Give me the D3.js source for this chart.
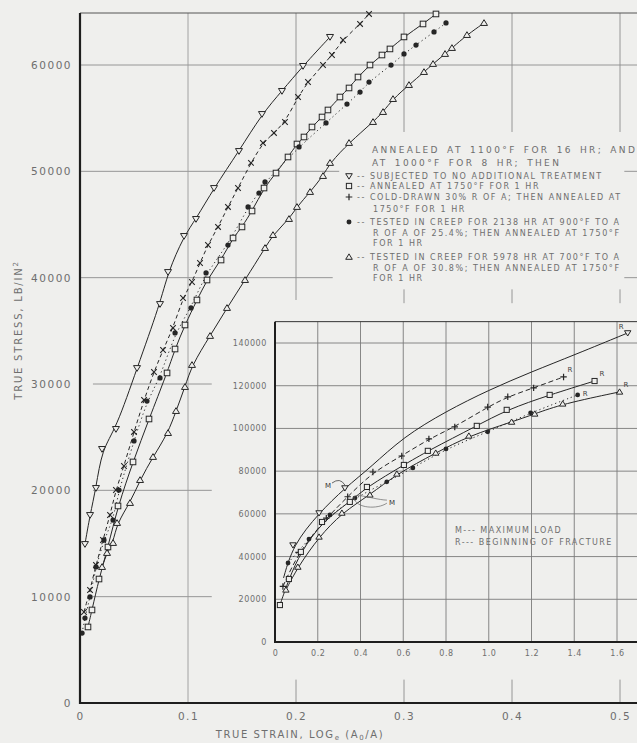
<!DOCTYPE html>
<html><head><meta charset="utf-8">
<script src="https://cdn.jsdelivr.net/npm/d3@7"></script>
<style>
body{margin:0;background:#efefed;}
svg{display:block;font-family:"DejaVu Sans",sans-serif;}
</style></head><body>
<svg id="c" width="637" height="743"></svg>
<script>
// ---------------- DATA ----------------
const mainXTicks = [0, 0.1, 0.2, 0.3, 0.4, 0.5];
const mainYTicks = [0, 10000, 20000, 30000, 40000, 50000, 60000];
const insetXTicks = [0, 0.2, 0.4, 0.6, 0.8, 1.0, 1.2, 1.4, 1.6];
const insetYTicks = [0, 20000, 40000, 60000, 80000, 100000, 120000, 140000];

// main chart: [true strain, true stress]
const noTreatment = [[0.0046,14950],[0.0093,17680],[0.0148,20220],[0.0204,23890],[0.0333,25770],[0.0528,31500],[0.0741,37520],[0.0815,40530],[0.0963,43920],[0.1074,45520],[0.1241,48430],[0.1472,51910],[0.1685,55390],[0.1870,57560],[0.2065,59910],[0.2315,62640]];
const annealed1750 = [[0.0074,7150],[0.0111,8750],[0.0176,11660],[0.0259,14670],[0.0352,18530],[0.0491,22670],[0.0639,26710],[0.0806,31040],[0.0880,33290],[0.0972,35550],[0.1083,37900],[0.1176,39780],[0.1306,41660],[0.1417,43730],[0.1500,44770],[0.1593,46270],[0.1704,48430],[0.1815,49840],[0.1926,51350],[0.2009,52570],[0.2074,53230],[0.2148,54170],[0.2241,55110],[0.2296,55770],[0.2407,56990],[0.2491,57840],[0.2574,58870],[0.2685,60000],[0.2796,60940],[0.2870,61510],[0.3000,62640],[0.3176,63860],[0.3296,64800]];
const coldDrawn = [[0.0037,8560],[0.0093,10630],[0.0148,12980],[0.0213,15330],[0.0278,17680],[0.0333,20030],[0.0407,22290],[0.0500,25490],[0.0593,28500],[0.0685,31130],[0.0769,33200],[0.0861,35270],[0.0954,38090],[0.1037,39590],[0.1111,41380],[0.1185,43070],[0.1278,44770],[0.1370,46650],[0.1463,48430],[0.1583,50790],[0.1694,52670],[0.1796,53610],[0.1898,54640],[0.2019,56990],[0.2111,58400],[0.2250,60000],[0.2333,60940],[0.2435,62350],[0.2593,63860],[0.2676,64800]];
const creep900 = [[0.0019,6580],[0.0046,7990],[0.0093,9970],[0.0148,12790],[0.0222,15330],[0.0306,17210],[0.0361,20030],[0.0500,24640],[0.0620,28400],[0.0741,30570],[0.0880,34800],[0.1028,37150],[0.1167,40440],[0.1370,43070],[0.1556,46650],[0.1657,47960],[0.1713,49000],[0.2028,52290],[0.2278,54550],[0.2472,56330],[0.2593,57460],[0.2676,58400],[0.2880,60000],[0.3000,61040],[0.3111,61880],[0.3278,63110],[0.3389,63950]];
const creep700 = [[0.0204,12790],[0.0250,14110],[0.0306,15050],[0.0343,16930],[0.0463,18810],[0.0556,20970],[0.0676,23140],[0.0815,25390],[0.0889,27460],[0.0972,29720],[0.1037,31790],[0.1204,34520],[0.1361,37150],[0.1528,39780],[0.1713,42790],[0.1787,44010],[0.1935,45520],[0.2009,46650],[0.2130,48060],[0.2250,49560],[0.2315,50790],[0.2491,52670],[0.2713,54640],[0.2806,55580],[0.2898,56800],[0.3046,58120],[0.3185,59340],[0.3269,60100],[0.3380,61040],[0.3444,61600],[0.3583,62820],[0.3741,63950]];

// inset chart
const insetNoTreatment = [[0.084,45400],[0.206,60400],[0.327,72100],[1.65,144700]];
const insetNoTreatmentCurve = [[0.04,30000],[0.084,45400],[0.206,60400],[0.327,72100],[0.45,82000],[0.6,96000],[0.8,108000],[1.0,118000],[1.2,126500],[1.4,134400],[1.65,144700]];
const insetCold = [[0.037,26000],[0.11,42000],[0.24,58000],[0.34,68000],[0.458,79600],[0.593,87100],[0.72,95100],[0.841,100700],[0.995,110000],[1.089,114800],[1.21,119000],[1.35,124100]];
const insetAnnealed = [[0.023,17300],[0.065,29500],[0.121,42200],[0.22,56200],[0.35,65600],[0.43,72600],[0.603,82900],[0.715,89500],[0.944,101200],[1.084,108700],[1.285,115700],[1.495,122200]];
const insetCreep900 = [[0.061,37000],[0.159,48200],[0.257,59500],[0.374,67400],[0.523,75000],[0.645,81500],[0.8,90400],[0.995,98400],[1.196,107300],[1.416,115700]];
const insetCreep700 = [[0.051,24400],[0.107,35100],[0.206,49200],[0.313,60400],[0.444,68900],[0.57,78700],[0.752,88500],[0.907,96500],[1.107,103000],[1.215,106800],[1.346,111500],[1.612,117100]];

const legendTitle = ["ANNEALED AT 1100°F FOR 16 HR; AND", "AT 1000°F FOR 8 HR; THEN"];
const legendItems = [
  {sym:"tdown", lines:["-- SUBJECTED TO NO ADDITIONAL TREATMENT"]},
  {sym:"sq", lines:["-- ANNEALED AT 1750°F FOR 1 HR"]},
  {sym:"plus", lines:["-- COLD-DRAWN 30% R OF A; THEN ANNEALED AT", "1750°F FOR 1 HR"]},
  {sym:"dot", lines:["-- TESTED IN CREEP FOR 2138 HR AT 900°F TO A", "R OF A OF 25.4%; THEN ANNEALED AT 1750°F", "FOR 1 HR"]},
  {sym:"tup", lines:["-- TESTED IN CREEP FOR 5978 HR AT 700°F TO A", "R OF A OF 30.8%; THEN ANNEALED AT 1750°F", "FOR 1 HR"]}
];
const insetLegend = ["M--- MAXIMUM LOAD", "R--- BEGINNING OF FRACTURE"];
const maxLoadLabels = [[0.248,73500],[0.547,65500]];

// ---------------- DRAW ----------------
const BG = "#efefed", INK = "#262626", GRID = "#8c8c8c", TXT = "#6e6e6e";
const svg = d3.select("#c");
svg.append("rect").attr("width",637).attr("height",743).attr("fill",BG);

function mark(g, type, cx, cy, r) {
  const sw = 1;
  if (type === "tdown") g.append("path").attr("d",`M${cx-r},${cy-r*0.7}L${cx+r},${cy-r*0.7}L${cx},${cy+r*0.95}Z`).attr("fill",BG).attr("stroke",INK).attr("stroke-width",sw);
  else if (type === "tup") g.append("path").attr("d",`M${cx-r},${cy+r*0.7}L${cx+r},${cy+r*0.7}L${cx},${cy-r*0.95}Z`).attr("fill",BG).attr("stroke",INK).attr("stroke-width",sw);
  else if (type === "sq") g.append("rect").attr("x",cx-r*0.8).attr("y",cy-r*0.8).attr("width",r*1.6).attr("height",r*1.6).attr("fill",BG).attr("stroke",INK).attr("stroke-width",sw);
  else if (type === "dot") g.append("circle").attr("cx",cx).attr("cy",cy).attr("r",r*0.75).attr("fill",INK);
  else if (type === "x") g.append("path").attr("d",`M${cx-r*0.8},${cy-r*0.8}L${cx+r*0.8},${cy+r*0.8}M${cx-r*0.8},${cy+r*0.8}L${cx+r*0.8},${cy-r*0.8}`).attr("stroke",INK).attr("stroke-width",1.1);
  else if (type === "plus") g.append("path").attr("d",`M${cx-r},${cy}L${cx+r},${cy}M${cx},${cy-r}L${cx},${cy+r}`).attr("stroke",INK).attr("stroke-width",1.2);
}

// ---- main chart ----
const x = d3.scaleLinear().domain([0,0.5]).range([80,620]);
const y = d3.scaleLinear().domain([0,60000]).range([703,65]);
const TOP = 64890, XR = x.invert(637);
const gm = svg.append("g");
function hl(g, sx, sy, s, v0, v1, col, w) {
  g.append("line").attr("x1",sx(v0)).attr("x2",sx(v1)).attr("y1",sy(s)).attr("y2",sy(s)).attr("stroke",col).attr("stroke-width",w);
}
function vl(g, sx, sy, v, s0, s1, col, w) {
  g.append("line").attr("x1",sx(v)).attr("x2",sx(v)).attr("y1",sy(s0)).attr("y2",sy(s1)).attr("stroke",col).attr("stroke-width",w);
}
hl(gm,x,y,60000,0,XR,GRID,0.9);
hl(gm,x,y,50000,0,0.24,GRID,0.9); hl(gm,x,y,50000,0.504,XR,GRID,0.9);
hl(gm,x,y,40000,0,0.234,GRID,0.9); hl(gm,x,y,40000,0.504,XR,GRID,0.9);
[10000,20000,30000].forEach(s=>hl(gm,x,y,s,0.012,0.122,GRID,0.9));
vl(gm,x,y,0.1,0,TOP,"#9a9a9a",0.9);
vl(gm,x,y,0.2,37900,TOP,GRID,0.9); vl(gm,x,y,0.2,0,2200,GRID,0.9);
[0.3,0.4,0.5].forEach(v=>{vl(gm,x,y,v,53700,TOP,GRID,0.9); vl(gm,x,y,v,37600,38900,GRID,0.9); vl(gm,x,y,v,0,2200,GRID,0.9);});
hl(gm,x,y,TOP,0,XR,"#555",1);

const lineMain = d3.line().x(d=>x(d[0])).y(d=>y(d[1])).curve(d3.curveBasis);
const mainSeries = [
  {d:noTreatment, sym:"tdown", dash:null},
  {d:annealed1750, sym:"sq", dash:null},
  {d:coldDrawn, sym:"x", dash:"4,3"},
  {d:creep900, sym:"dot", dash:"1.2,3"},
  {d:creep700, sym:"tup", dash:null}
];
mainSeries.forEach(s=>{
  gm.append("path").attr("d",lineMain(s.d)).attr("fill","none").attr("stroke",INK).attr("stroke-width",1).attr("stroke-dasharray",s.dash);
});
mainSeries.forEach(s=>{ s.d.forEach(p=>mark(gm,s.sym,x(p[0]),y(p[1]),3.5)); });

// axes lines
gm.append("line").attr("x1",x(0)).attr("x2",x(0)).attr("y1",y(TOP)).attr("y2",y(0)+1).attr("stroke","#1e1e1e").attr("stroke-width",2.2);
gm.append("line").attr("x1",x(0)-1).attr("x2",637).attr("y1",y(0)).attr("y2",y(0)).attr("stroke","#1e1e1e").attr("stroke-width",2.2);

const ya = gm.append("g").attr("transform","translate(80,0)")
  .call(d3.axisLeft(y).tickValues(mainYTicks).tickSize(0).tickPadding(8).tickFormat(d=>String(d)));
const xa = gm.append("g").attr("transform","translate(0,703)")
  .call(d3.axisBottom(x).tickValues(mainXTicks).tickSize(0).tickPadding(10).tickFormat(d=>d===0?"0":d.toFixed(1)));
[ya,xa].forEach(a=>{ a.select(".domain").remove();
  a.selectAll("text").attr("fill",TXT).style("font-size","10.5px").style("letter-spacing","1.5px").style("font-family","DejaVu Sans"); });

// axis titles
gm.append("text").attr("x",300).attr("y",738).attr("text-anchor","middle").attr("fill",TXT)
  .style("font-size","10px").style("letter-spacing","1.6px")
  .call(t=>{ t.append("tspan").text("TRUE STRAIN, LOG");
    t.append("tspan").attr("dy",2).style("font-size","7px").text("e");
    t.append("tspan").attr("dy",-2).text(" (A");
    t.append("tspan").attr("dy",2).style("font-size","7px").text("0");
    t.append("tspan").attr("dy",-2).text("/A)"); });
gm.append("text").attr("transform","translate(22,330) rotate(-90)").attr("text-anchor","middle").attr("fill",TXT)
  .style("font-size","10px").style("letter-spacing","1.8px")
  .call(t=>{ t.append("tspan").text("TRUE STRESS, LB/IN");
    t.append("tspan").attr("dy",-4).style("font-size","7px").text("2"); });

// legend
const gl = svg.append("g").attr("fill",TXT);
legendTitle.forEach((s,i)=>gl.append("text").attr("x",372).attr("y",153+i*13).text(s)
  .style("font-size","9px").style("letter-spacing","2.35px").style("word-spacing","2px"));
const rowY = [[176],[186],[197,209],[222,233,243],[257,268,278]];
legendItems.forEach((it,i)=>{
  mark(gl, it.sym, 349, rowY[i][0], 3.3);
  it.lines.forEach((s,j)=>gl.append("text").attr("x", j===0?357:373).attr("y",rowY[i][j]+3).text(s)
    .style("font-size","8px").style("letter-spacing","1.55px"));
});

// ---- inset ----
const xi = d3.scaleLinear().domain([0,1.6]).range([275,617]);
const yi = d3.scaleLinear().domain([0,140000]).range([642,343]);
const ITOP = 150000, IXR = xi.invert(637);
const gi = svg.append("g");
gi.append("rect").attr("x",xi(0)).attr("y",yi(ITOP)).attr("width",637-xi(0)).attr("height",yi(0)-yi(ITOP)).attr("fill",BG);
insetYTicks.filter(d=>d>0).forEach(s=>hl(gi,xi,yi,s,0,IXR,"#7a7a7a",0.9));
insetXTicks.filter(d=>d>0).forEach(v=>vl(gi,xi,yi,v,0,ITOP,"#7a7a7a",0.9));
hl(gi,xi,yi,ITOP,0,IXR,"#333",1);

const lineIn = d3.line().x(d=>xi(d[0])).y(d=>yi(d[1])).curve(d3.curveBasis);
gi.append("path").attr("d",lineIn(insetNoTreatmentCurve)).attr("fill","none").attr("stroke",INK).attr("stroke-width",1);
const insetSeries = [
  {d:insetCold, sym:"plus", dash:"5,3"},
  {d:insetAnnealed, sym:"sq", dash:null},
  {d:insetCreep900, sym:"dot", dash:"1.2,3"},
  {d:insetCreep700, sym:"tup", dash:null}
];
insetSeries.forEach(s=>gi.append("path").attr("d",lineIn(s.d)).attr("fill","none").attr("stroke",INK).attr("stroke-width",1).attr("stroke-dasharray",s.dash));
const allInset = [{d:insetNoTreatment, sym:"tdown"}].concat(insetSeries);
allInset.forEach(s=>s.d.forEach(p=>mark(gi,s.sym,xi(p[0]),yi(p[1]),3.2)));

// R labels at fracture points
const rOff = [[-9,-4],[4,-5],[5,-5],[5,1],[4,-5]];
allInset.forEach((s,i)=>{ const p = s.d[s.d.length-1];
  gi.append("text").attr("x",xi(p[0])+rOff[i][0]).attr("y",yi(p[1])+rOff[i][1]).text("R")
    .attr("fill","#444").style("font-size","7px"); });

// M labels with leaders
const m0 = maxLoadLabels[0], m1 = maxLoadLabels[1];
gi.append("text").attr("x",xi(m0[0])).attr("y",yi(m0[1])+3).attr("text-anchor","middle").text("M").attr("fill","#333").style("font-size","7px");
gi.append("path").attr("d",`M${xi(m0[0])+4},${yi(m0[1])-2}Q${xi(m0[0])+12},${yi(m0[1])-8} ${xi(0.327)},${yi(72100)-3}`).attr("fill","none").attr("stroke","#444").attr("stroke-width",0.8);
gi.append("text").attr("x",xi(m1[0])).attr("y",yi(m1[1])+3).attr("text-anchor","middle").text("M").attr("fill","#333").style("font-size","7px");
gi.append("path").attr("d",`M${xi(m1[0])-5},${yi(m1[1])-2}C${xi(0.47)},${yi(66500)} ${xi(0.36)},${yi(70500)} ${xi(0.37)},${yi(67400)}C${xi(0.38)},${yi(62500)} ${xi(0.48)},${yi(62000)} ${xi(m1[0])-5},${yi(m1[1])+1}`).attr("fill","none").attr("stroke","#666").attr("stroke-width",0.7);

// inset axes
gi.append("line").attr("x1",xi(0)).attr("x2",xi(0)).attr("y1",yi(ITOP)).attr("y2",yi(0)+1).attr("stroke","#1e1e1e").attr("stroke-width",2);
gi.append("line").attr("x1",xi(0)-1).attr("x2",637).attr("y1",yi(0)).attr("y2",yi(0)).attr("stroke","#1e1e1e").attr("stroke-width",2);
const yia = gi.append("g").attr("transform",`translate(${xi(0)},0)`)
  .call(d3.axisLeft(yi).tickValues(insetYTicks).tickSize(0).tickPadding(8).tickFormat(d=>String(d)));
const xia = gi.append("g").attr("transform",`translate(0,${yi(0)})`)
  .call(d3.axisBottom(xi).tickValues(insetXTicks).tickSize(0).tickPadding(8).tickFormat(d=>d===0?"0":d.toFixed(1)));
[yia,xia].forEach(a=>{ a.select(".domain").remove();
  a.selectAll("text").attr("fill",TXT).style("font-size","8px").style("letter-spacing","0.6px").style("font-family","DejaVu Sans"); });

insetLegend.forEach((s,i)=>gi.append("text").attr("x",455).attr("y",533+i*12).text(s).attr("fill",TXT)
  .style("font-size","8px").style("letter-spacing","1.45px"));
</script>
</body></html>
